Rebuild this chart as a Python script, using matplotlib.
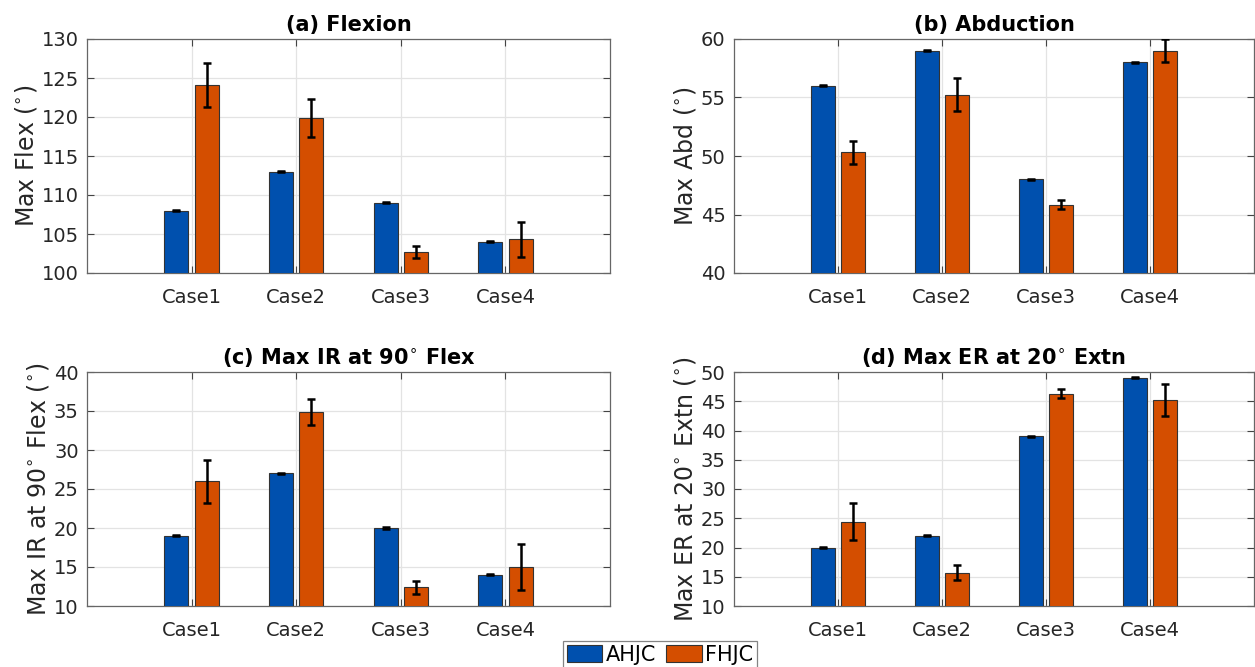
import numpy as np
import matplotlib
matplotlib.use('Agg')
import matplotlib.pyplot as plt

plt.rcParams['font.family'] = ['DejaVu Sans']
plt.rcParams['mathtext.fontset'] = 'dejavusans'

cases = ['Case1', 'Case2', 'Case3', 'Case4']

#(a) flexion
flex_ahjc = [108, 113, 109, 104]
flex_ahjc_err = [0.08, 0.08, 0.08, 0.08]
flex_fhjc = [124.1, 119.85, 102.7, 104.3]
flex_fhjc_err = [2.8, 2.4, 0.75, 2.3]

#(b) abduction
abd_ahjc = [56, 59, 48, 58]
abd_ahjc_err = [0.05, 0.05, 0.05, 0.05]
abd_fhjc = [50.3, 55.25, 45.85, 59.0]
abd_fhjc_err = [0.95, 1.4, 0.4, 1.0]

#(c) IR at 90 flex
ir_ahjc = [19, 27, 20, 14]
ir_ahjc_err = [0.08, 0.08, 0.08, 0.08]
ir_fhjc = [26.0, 34.9, 12.4, 15.0]
ir_fhjc_err = [2.75, 1.7, 0.85, 2.95]

#(d) ER at 20 extn
er_ahjc = [20, 22, 39, 49]
er_ahjc_err = [0.1, 0.1, 0.1, 0.1]
er_fhjc = [24.4, 15.7, 46.3, 45.2]
er_fhjc_err = [3.2, 1.3, 0.8, 2.7]

blue = '#0050AE'
orange = '#D44E00'

W, H = 1255, 667
fig = plt.figure(figsize=(W/100, H/100), dpi=100)

def px_axes(left, top, width, height):
    return fig.add_axes([left/W, (H-top-height)/H, width/W, height/H])

def graph_bars(ax, a, a_err, f, f_err, ylim, yticks, title, ylabel):
    x = np.arange(1, len(cases)+1)
    bw = 0.23
    off = 0.145
    ax.bar(x-off, a, bw, color=blue, edgecolor='#333333', linewidth=0.8, label='AHJC', zorder=3)
    ax.bar(x+off, f, bw, color=orange, edgecolor='#333333', linewidth=0.8, label='FHJC', zorder=3)
    ax.errorbar(x-off, a, yerr=a_err, fmt='none', ecolor='black', elinewidth=1.8,
                capsize=3, capthick=1.8, zorder=4)
    ax.errorbar(x+off, f, yerr=f_err, fmt='none', ecolor='black', elinewidth=1.8,
                capsize=3, capthick=1.8, zorder=4)
    ax.set_xlim(0, 5)
    ax.set_ylim(ylim)
    ax.set_xticks(x)
    ax.set_xticklabels(cases)
    ax.set_yticks(yticks)
    ax.grid(True, color='#e3e3e3', linewidth=0.9, zorder=0)
    ax.set_axisbelow(True)
    ax.tick_params(axis='both', direction='in', top=True, right=True, length=5,
                   color='#444444', labelsize=14, labelcolor='#262626', pad=6)
    ax.tick_params(axis='x', pad=11)
    for s in ax.spines.values():
        s.set_color('#666666')
        s.set_linewidth(0.9)
    ax.set_title(title, fontsize=15, fontweight='bold', pad=6)
    ax.set_ylabel(ylabel, fontsize=17, color='#262626', labelpad=2)

ax_a = px_axes(87, 39, 523, 234)
graph_bars(ax_a, flex_ahjc, flex_ahjc_err, flex_fhjc, flex_fhjc_err, (100, 130),
           np.arange(100, 131, 5), '(a) Flexion', 'Max Flex ($^{\\circ}$)')

ax_b = px_axes(734, 39, 520, 234)
graph_bars(ax_b, abd_ahjc, abd_ahjc_err, abd_fhjc, abd_fhjc_err, (40, 60),
           np.arange(40, 61, 5), '(b) Abduction', 'Max Abd ($^{\\circ}$)')

ax_c = px_axes(87, 372, 523, 234)
graph_bars(ax_c, ir_ahjc, ir_ahjc_err, ir_fhjc, ir_fhjc_err, (10, 40),
           np.arange(10, 41, 5), '(c) Max IR at 90$^{\\circ}$ Flex',
           'Max IR at 90$^{\\circ}$ Flex ($^{\\circ}$)')

ax_d = px_axes(734, 372, 520, 234)
graph_bars(ax_d, er_ahjc, er_ahjc_err, er_fhjc, er_fhjc_err, (10, 50),
           np.arange(10, 51, 5), '(d) Max ER at 20$^{\\circ}$ Extn',
           'Max ER at 20$^{\\circ}$ Extn ($^{\\circ}$)')

handles, labels = ax_a.get_legend_handles_labels()
leg = fig.legend(handles, labels, loc='center', bbox_to_anchor=(660/W, 1-655/H),
                 ncol=2, fontsize=15, frameon=True, fancybox=False,
                 handlelength=1.7, handleheight=0.85, handletextpad=0.15,
                 columnspacing=0.5, borderpad=0.2, borderaxespad=0)
leg.get_frame().set_edgecolor('#666666')
leg.get_frame().set_linewidth(0.9)

fig.savefig('out.png', dpi=100)
